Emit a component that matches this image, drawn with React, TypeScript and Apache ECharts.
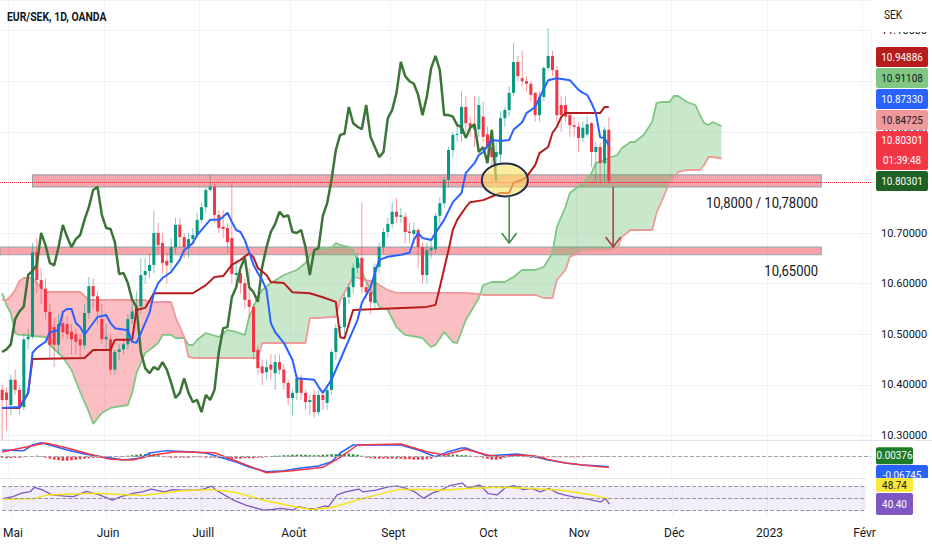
import React, { useEffect, useRef } from "react";
import * as echarts from "echarts";

const FONT = "Roboto, 'Noto Sans', sans-serif";
const SYMBOL_TITLE = "EUR/SEK, 1D, OANDA";
const CURRENCY = "SEK";
const COUNTDOWN = "01:39:48";
const CATEGORY_COUNT = 201;
const MONTH_TICK_LABELS: Record<string, string> = {
  "05": "Mai", "06": "Juin", "07": "Juill", "08": "Août", "09": "Sept",
  "10": "Oct", "11": "Nov", "12": "Déc", "01": "2023", "02": "Févr",
};
const ZONE_TEXTS = ["10,8000 / 10,78000", "10,65000"];

// daily candles: [open, close, low, high]
const ohlc: number[][] = [
  [10.39, 10.37, 10.29, 10.40], [10.385, 10.37, 10.31, 10.395], [10.36, 10.41, 10.34, 10.42], [10.41, 10.39, 10.38, 10.43],
  [10.39, 10.356, 10.34, 10.40], [10.356, 10.49, 10.35, 10.50], [10.49, 10.495, 10.47, 10.51], [10.495, 10.662, 10.49, 10.68],
  [10.662, 10.607, 10.58, 10.69], [10.607, 10.59, 10.56, 10.63], [10.59, 10.544, 10.53, 10.61], [10.544, 10.479, 10.45, 10.56],
  [10.514, 10.479, 10.435, 10.53], [10.479, 10.52, 10.46, 10.54], [10.522, 10.504, 10.49, 10.54], [10.52, 10.50, 10.49, 10.535],
  [10.505, 10.49, 10.46, 10.52], [10.50, 10.485, 10.46, 10.51], [10.49, 10.478, 10.45, 10.50], [10.478, 10.542, 10.47, 10.56],
  [10.542, 10.595, 10.53, 10.613], [10.595, 10.575, 10.55, 10.61], [10.575, 10.545, 10.52, 10.585], [10.53, 10.49, 10.48, 10.56],
  [10.49, 10.495, 10.47, 10.52], [10.49, 10.43, 10.42, 10.50], [10.43, 10.465, 10.42, 10.47], [10.465, 10.47, 10.45, 10.48],
  [10.47, 10.48, 10.46, 10.49], [10.48, 10.53, 10.47, 10.54], [10.53, 10.545, 10.52, 10.56], [10.54, 10.555, 10.53, 10.585],
  [10.555, 10.617, 10.54, 10.65], [10.617, 10.625, 10.60, 10.65], [10.625, 10.637, 10.61, 10.66], [10.637, 10.70, 10.62, 10.745],
  [10.70, 10.676, 10.66, 10.72], [10.68, 10.641, 10.62, 10.70], [10.645, 10.636, 10.60, 10.66], [10.641, 10.672, 10.62, 10.69],
  [10.672, 10.716, 10.66, 10.73], [10.716, 10.692, 10.67, 10.73], [10.692, 10.672, 10.65, 10.70], [10.67, 10.688, 10.65, 10.70],
  [10.688, 10.696, 10.68, 10.71], [10.696, 10.726, 10.69, 10.74], [10.726, 10.751, 10.72, 10.76], [10.751, 10.785, 10.74, 10.79],
  [10.785, 10.791, 10.78, 10.815], [10.791, 10.736, 10.72, 10.80], [10.736, 10.71, 10.70, 10.745], [10.712, 10.708, 10.69, 10.745],
  [10.71, 10.682, 10.66, 10.72], [10.69, 10.619, 10.60, 10.799], [10.617, 10.621, 10.60, 10.64], [10.621, 10.601, 10.58, 10.63],
  [10.601, 10.568, 10.55, 10.61], [10.568, 10.554, 10.53, 10.63], [10.554, 10.465, 10.45, 10.56], [10.469, 10.433, 10.42, 10.48],
  [10.436, 10.423, 10.40, 10.45], [10.425, 10.435, 10.41, 10.45], [10.44, 10.43, 10.41, 10.46], [10.423, 10.445, 10.39, 10.46],
  [10.445, 10.43, 10.42, 10.46], [10.43, 10.404, 10.39, 10.44], [10.404, 10.374, 10.36, 10.41], [10.374, 10.384, 10.34, 10.39],
  [10.384, 10.413, 10.37, 10.42], [10.413, 10.384, 10.37, 10.42], [10.384, 10.366, 10.35, 10.39], [10.366, 10.37, 10.34, 10.38],
  [10.38, 10.346, 10.335, 10.39], [10.346, 10.38, 10.34, 10.39], [10.38, 10.37, 10.35, 10.39], [10.364, 10.39, 10.35, 10.40],
  [10.39, 10.465, 10.38, 10.47], [10.465, 10.512, 10.45, 10.52], [10.512, 10.514, 10.50, 10.52], [10.514, 10.573, 10.50, 10.58],
  [10.573, 10.593, 10.56, 10.60], [10.593, 10.631, 10.58, 10.64], [10.631, 10.651, 10.62, 10.66], [10.651, 10.593, 10.58, 10.761],
  [10.593, 10.583, 10.57, 10.60], [10.583, 10.564, 10.54, 10.59], [10.562, 10.633, 10.55, 10.64], [10.633, 10.672, 10.62, 10.68],
  [10.672, 10.702, 10.66, 10.71], [10.702, 10.718, 10.69, 10.73], [10.718, 10.742, 10.71, 10.76], [10.742, 10.732, 10.72, 10.769],
  [10.732, 10.735, 10.72, 10.75], [10.732, 10.702, 10.68, 10.74], [10.703, 10.70, 10.68, 10.72], [10.698, 10.706, 10.68, 10.72],
  [10.706, 10.672, 10.63, 10.71], [10.672, 10.617, 10.60, 10.68], [10.617, 10.666, 10.60, 10.68], [10.666, 10.67, 10.65, 10.69],
  [10.668, 10.734, 10.66, 10.74], [10.734, 10.759, 10.72, 10.77], [10.759, 10.805, 10.75, 10.81], [10.805, 10.864, 10.79, 10.87],
  [10.864, 10.894, 10.85, 10.90], [10.894, 10.896, 10.88, 10.92], [10.896, 10.949, 10.88, 10.98], [10.949, 10.917, 10.90, 10.97],
  [10.917, 10.91, 10.89, 10.93], [10.915, 10.905, 10.87, 10.97], [10.905, 10.953, 10.89, 10.97], [10.93, 10.89, 10.88, 10.96],
  [10.895, 10.87, 10.84, 10.91], [10.87, 10.85, 10.83, 10.88], [10.85, 10.86, 10.82, 10.88], [10.855, 10.927, 10.84, 10.94],
  [10.927, 10.943, 10.91, 10.95], [10.943, 10.977, 10.93, 10.99], [10.977, 11.038, 10.97, 11.075], [11.038, 11.01, 11.0, 11.05],
  [11.006, 11.0, 10.99, 11.06], [11.0, 10.995, 10.98, 11.01], [10.995, 10.973, 10.96, 11.0], [10.977, 10.933, 10.92, 10.98],
  [10.933, 10.969, 10.92, 10.98], [10.969, 11.026, 10.96, 11.03], [11.026, 11.05, 11.02, 11.105], [11.05, 11.022, 11.01, 11.06],
  [11.022, 10.933, 10.92, 11.03], [10.953, 10.933, 10.90, 10.97], [10.953, 10.93, 10.92, 10.97], [10.933, 10.913, 10.89, 10.94],
  [10.913, 10.91, 10.89, 10.93], [10.91, 10.888, 10.86, 10.92], [10.888, 10.908, 10.88, 10.92], [10.895, 10.915, 10.89, 10.93],
  [10.917, 10.86, 10.83, 10.92], [10.86, 10.87, 10.80, 10.88], [10.87, 10.838, 10.80, 10.88], [10.838, 10.904, 10.80, 10.91],
  [10.904, 10.80301, 10.80, 10.929],
];

// Ichimoku conversion line (tenkan) [bar, value]
const tenkan: number[][] = [
  [0, 10.354], [4, 10.356], [6, 10.384], [7, 10.463], [8, 10.473], [10, 10.485], [11, 10.504], [13, 10.508], [14, 10.544],
  [15, 10.55], [16, 10.55], [17, 10.522], [18, 10.514], [19, 10.499], [22, 10.534], [24, 10.538], [25, 10.522], [26, 10.512],
  [29, 10.508], [30, 10.485], [31, 10.483], [32, 10.502], [34, 10.542], [35, 10.581], [36, 10.601], [37, 10.611], [39, 10.623],
  [41, 10.647], [42, 10.666], [44, 10.68], [45, 10.696], [47, 10.716], [48, 10.726], [50, 10.726], [51, 10.732], [52, 10.74],
  [53, 10.722], [54, 10.706], [55, 10.702], [56, 10.686], [57, 10.662], [58, 10.637], [59, 10.621], [60, 10.607], [61, 10.587],
  [62, 10.522], [63, 10.504], [65, 10.483], [67, 10.449], [68, 10.413], [72, 10.41], [73, 10.396], [74, 10.384], [76, 10.41],
  [78, 10.449], [80, 10.489], [82, 10.528], [83, 10.562], [85, 10.593], [87, 10.647], [89, 10.653], [92, 10.657], [94, 10.661],
  [95, 10.686], [96, 10.70], [97, 10.69], [99, 10.686], [100, 10.70], [102, 10.726], [104, 10.761], [106, 10.779], [107, 10.819],
  [109, 10.838], [110, 10.854], [111, 10.86], [113, 10.884], [115, 10.882], [117, 10.884], [118, 10.904], [120, 10.919],
  [121, 10.937], [123, 10.949], [124, 10.967], [126, 11.002], [128, 11.006], [131, 11.002], [133, 10.983], [134, 10.977],
  [135, 10.973], [136, 10.957], [137, 10.937], [138, 10.889], [139, 10.888], [140, 10.8733],
];

// Ichimoku base line (kijun) [bar, value]
const kijun: number[][] = [
  [0, 10.354], [4, 10.354], [6, 10.384], [7, 10.451], [19, 10.453], [21, 10.469], [25, 10.469], [26, 10.489], [30, 10.489],
  [31, 10.548], [33, 10.552], [35, 10.581], [44, 10.581], [47, 10.597], [49, 10.613], [51, 10.615], [53, 10.637], [55, 10.647],
  [57, 10.66], [58, 10.652], [59, 10.631], [61, 10.617], [62, 10.603], [65, 10.601], [67, 10.583], [71, 10.581], [74, 10.573],
  [77, 10.564], [78, 10.494], [79, 10.492], [81, 10.548], [98, 10.554], [100, 10.558], [101, 10.593], [103, 10.666],
  [104, 10.706], [105, 10.726], [107, 10.751], [108, 10.761], [111, 10.765], [115, 10.779], [117, 10.779], [118, 10.799],
  [120, 10.805], [121, 10.811], [123, 10.834], [124, 10.858], [126, 10.87], [127, 10.898], [128, 10.91], [129, 10.929],
  [130, 10.937], [138, 10.937], [139, 10.94886], [140, 10.94886],
];

// Ichimoku cloud [bar, leading span A, leading span B]
const cloud: number[][] = [
  [0, 10.5815, 10.5676], [1, 10.5577, 10.5676], [2, 10.5419, 10.5755], [3, 10.5024, 10.5874], [4, 10.4985, 10.6052],
  [5, 10.4985, 10.6111], [7, 10.4965, 10.6111], [10, 10.4945, 10.5834], [11, 10.4787, 10.5834], [13, 10.4629, 10.5834],
  [14, 10.455, 10.5834], [16, 10.4293, 10.5834], [18, 10.3858, 10.5834], [20, 10.3463, 10.5676], [21, 10.3225, 10.5676],
  [23, 10.3443, 10.5676], [25, 10.3542, 10.5676], [29, 10.3601, 10.5676], [30, 10.3838, 10.5676], [31, 10.4233, 10.5676],
  [33, 10.4629, 10.5676], [34, 10.4688, 10.5637], [36, 10.4826, 10.5637], [37, 10.4985, 10.5637], [39, 10.4985, 10.5637],
  [40, 10.4925, 10.534], [42, 10.4925, 10.4945], [43, 10.4787, 10.455], [44, 10.4787, 10.453], [45, 10.4886, 10.453],
  [47, 10.5024, 10.453], [50, 10.4945, 10.453], [52, 10.5083, 10.453], [54, 10.5044, 10.453], [56, 10.4985, 10.453],
  [57, 10.534, 10.453], [59, 10.5735, 10.453], [60, 10.5874, 10.4826], [62, 10.6012, 10.4826], [65, 10.617, 10.4826],
  [68, 10.6269, 10.4826], [70, 10.6407, 10.4826], [71, 10.6565, 10.532], [73, 10.6704, 10.532], [76, 10.6704, 10.534],
  [77, 10.6803, 10.534], [78, 10.6763, 10.5676], [80, 10.6724, 10.5973], [81, 10.6664, 10.6131], [82, 10.6467, 10.6111],
  [84, 10.6032, 10.6071], [86, 10.5735, 10.6032], [87, 10.5538, 10.5973], [89, 10.5478, 10.5874], [91, 10.5143, 10.5815],
  [93, 10.4985, 10.5815], [97, 10.4925, 10.5815], [99, 10.4747, 10.5815], [100, 10.4787, 10.5815], [102, 10.5044, 10.5815],
  [104, 10.4846, 10.5815], [105, 10.4826, 10.5815], [107, 10.5281, 10.5815], [110, 10.5716, 10.5795], [111, 10.5973, 10.5775],
  [113, 10.6032, 10.5775], [116, 10.6032, 10.5775], [118, 10.6131, 10.5775], [120, 10.6269, 10.5775], [123, 10.6269, 10.5775],
  [125, 10.6328, 10.5716], [127, 10.6605, 10.5716], [128, 10.7119, 10.6071], [130, 10.7514, 10.6269], [131, 10.7791, 10.6526],
  [134, 10.7988, 10.6645], [136, 10.8186, 10.6664], [137, 10.8384, 10.6664], [139, 10.8443, 10.6664], [140, 10.8482, 10.6664],
  [142, 10.8542, 10.6704], [143, 10.868, 10.6921], [145, 10.8799, 10.706], [146, 10.8799, 10.706], [148, 10.8937, 10.706],
  [150, 10.9194, 10.706], [151, 10.9569, 10.7396], [152, 10.9589, 10.7593], [154, 10.9589, 10.7988], [155, 10.9708, 10.8087],
  [156, 10.9708, 10.8206], [158, 10.9589, 10.8245], [160, 10.953, 10.8245], [161, 10.9332, 10.8245], [162, 10.9174, 10.8344],
  [163, 10.9135, 10.8502], [164, 10.9194, 10.8502], [166, 10.91108, 10.84725],
];

const CHIKOU_SHIFT = 26;

// support zones [fromBar, toBar, low, high]
const zones: number[][] = [
  [7, 189, 10.791, 10.815],
  [0, 189, 10.657, 10.672],
];
const ellipseMark = [116, 10.805];
const greenArrow = [117, 10.7732, 10.6803];
const redArrow = [141, 10.791, 10.6724];

// MACD pane
const macdLine: number[][] = [
  [0, 0.045], [5, 0.041], [7, 0.079], [9, 0.0945], [11, 0.079], [15, 0.045], [19, 0.018], [23, 0], [28, -0.022],
  [32, -0.009], [34, 0.025], [38, 0.041], [43, 0.034], [47, 0.025], [54, -0.036], [57, -0.07], [61, -0.101], [65, -0.095],
  [69, -0.076], [73, -0.063], [76, -0.034], [78, 0.025], [81, 0.079], [84, 0.079], [88, 0.079], [92, 0.079], [96, 0.045],
  [100, 0], [103, 0.034], [106, 0.059], [107, 0.059], [112, 0.005], [115, 0.011], [119, 0.018], [123, 0], [126, -0.022],
  [130, -0.043], [134, -0.056], [138, -0.063], [140, -0.06745],
];
const signalLine: number[][] = [
  [0, 0.032], [10, 0.092], [15, 0.059], [20, 0.018], [25, -0.018], [30, -0.022], [35, 0.011], [40, 0.034], [49, 0.027],
  [55, -0.041], [61, -0.108], [67, -0.095], [74, -0.072], [78, -0.004], [82, 0.079], [92, 0.086], [98, 0.034], [102, 0.011],
  [107, 0.05], [112, 0.011], [115, 0], [119, 0.011], [123, 0.005], [126, -0.018], [130, -0.043], [134, -0.056], [138, -0.068],
  [140, -0.0712],
];
const macdHist: number[] = [
  -0.0068, -0.0101, -0.0101, -0.0068, -0.0068, -0.0034, 0,
  0.0034, 0.0068, 0.0034,
  -0.0068, -0.0135, -0.0203, -0.0236, -0.027, -0.027, -0.0236, -0.0203, -0.0169, -0.0135,
  -0.0101, -0.0068, -0.0068, -0.0068, -0.0068, -0.0068, -0.0034, -0.0034,
  0.0034, 0.0068, 0.0101, 0.0135, 0.0169, 0.0169, 0.0169, 0.0135, 0.0101,
  -0.0034, -0.0034, -0.0068, -0.0068, -0.0068, -0.0068, -0.0068, -0.0034, -0.0034, -0.0034,
  -0.0068, -0.0068, -0.0068, -0.0101, -0.0101, -0.0101, -0.0135, -0.0135, -0.0135, -0.0101, -0.0101, -0.0101, -0.0068, -0.0068, -0.0034,
  0.0034, 0.0068, 0.0068, 0.0101, 0.0101, 0.0135, 0.0135, 0.0135, 0.0135, 0.0101, 0.0101, 0.0101, 0.0135, 0.0135, 0.0169,
  0.0169, 0.0203, 0.0203, 0.0203, 0.0169, 0.0135, 0.0068,
  -0.0068, -0.0101, -0.0135, -0.0135, -0.0135, -0.0135, -0.0135, -0.0135, -0.0135, -0.0169, -0.0169, -0.0203, -0.0203, -0.0203, -0.0169, -0.0135,
  0.0034, 0.0068, 0.0101, 0.0135, 0.0135, 0.0135, 0.0101, 0.0101,
  0.0068, 0.0034, -0.0034, -0.0068,
  -0.0135, -0.0203, -0.0203, -0.0169,
  -0.0068, -0.0034, 0.0034, 0.0034, 0.0034, -0.0034, -0.0068, -0.0068, -0.0068, -0.0068,
  -0.0034, -0.0034, -0.0034, -0.0034, -0.0034, -0.0034, -0.0034, -0.0034, -0.0034,
  -0.002, -0.002, -0.0014, 0.0014, 0.0027, 0.00376,
];

// RSI pane
const rsiLine: number[][] = [
  [0, 50], [2, 53], [4, 59], [6, 61.5], [7, 69], [9, 64], [11, 56], [14, 54], [16, 53], [19, 62], [22, 56], [24, 50],
  [25, 47], [27, 53], [30, 59], [32, 61], [34, 66], [37, 61], [39, 65], [41, 64], [44, 64], [46, 66], [48, 71], [49, 64],
  [53, 47], [56, 38], [60, 30], [62, 31], [64, 33], [67, 30], [68, 36], [70, 33], [72, 32], [74, 37], [75, 36], [77, 56],
  [79, 61], [82, 66], [83, 61], [86, 64], [89, 70], [91, 71], [93, 67], [95, 61], [97, 50], [99, 59], [101, 64], [103, 72],
  [106, 76], [107, 69.5], [108, 69], [110, 73], [112, 58], [114, 56], [116, 69], [118, 72], [120, 65], [122, 67], [124, 61],
  [126, 67], [128, 59], [130, 55], [132, 52], [135, 49], [136, 47], [138, 44], [139, 50], [140, 40.4],
];
const rsiMa: number[][] = [
  [0, 48.5], [7, 50], [10, 56], [21, 59], [32, 55], [41, 63], [48, 65], [53, 61], [60, 47], [67, 36], [71, 31], [76, 35],
  [83, 50], [91, 65], [97, 65], [101, 64], [107, 67], [115, 69], [122, 67], [129, 64], [136, 56], [140, 48.74],
];
const rsiLevels = [70, 50, 30];

function buildDates(): string[] {
  const out: string[] = [];
  let t = Date.UTC(2022, 3, 28);
  while (out.length < CATEGORY_COUNT) {
    const d = new Date(t);
    const wd = d.getUTCDay();
    if (wd !== 0 && wd !== 6) out.push(d.toISOString().slice(0, 10));
    t += 86400000;
  }
  return out;
}
const dates = buildDates();
const isMonthStart = (i: number) => i > 0 && dates[i].slice(5, 7) !== dates[i - 1].slice(5, 7);
const last = (a: number[][], k = 1) => a[a.length - 1][k];

function lineSeries(name: string, data: number[][], color: string, width: number, g: number, z: number, extra: any = {}) {
  return {
    name, type: "line", data, xAxisIndex: g, yAxisIndex: g, z, silent: true,
    symbol: "none", showSymbol: false, smooth: false,
    lineStyle: { color, width }, ...extra,
  };
}

function buildOption(): any {
  const green = "rgba(76,175,80,0.3)";
  const red = "rgba(242,54,69,0.32)";
  const xAxes = [0, 1, 2].map((g) => ({
    type: "category", gridIndex: g, data: dates, boundaryGap: true,
    axisLine: { show: false },
    axisTick: { show: false, alignWithLabel: true, interval: (i: number) => isMonthStart(i) },
    splitLine: { show: true, interval: (i: number) => isMonthStart(i), lineStyle: { color: "#f0f3fa", width: 1 } },
    axisLabel: g === 2
      ? {
          show: true, interval: (i: number) => isMonthStart(i), color: "#131722", fontSize: 12, margin: 10,
          fontFamily: FONT,
          formatter: (v: string) => MONTH_TICK_LABELS[v.slice(5, 7)] || "",
        }
      : { show: false },
  }));
  return {
    animation: false,
    textStyle: { fontFamily: FONT },
    grid: [
      { left: 0, right: 61, top: 0, height: 440 },
      { left: 0, right: 61, top: 441, height: 37 },
      { left: 0, right: 61, top: 479, height: 38 },
    ],
    xAxis: xAxes,
    yAxis: [
      {
        type: "value", gridIndex: 0, position: "right", min: 10.29093, max: 11.1605,
        minInterval: 0.1, maxInterval: 0.1,
        axisLine: { show: false }, axisTick: { show: false },
        splitLine: { show: true, lineStyle: { color: "#f0f3fa" } },
        axisLabel: {
          color: "#131722", fontSize: 11, margin: 10, fontFamily: FONT,
          showMinLabel: false, showMaxLabel: false,
          formatter: (v: number) => v.toFixed(5),
        },
      },
      { type: "value", gridIndex: 1, min: -0.1438, max: 0.106, show: false, splitLine: { show: false } },
      { type: "value", gridIndex: 2, min: 18.2, max: 83.16, show: false, splitLine: { show: false } },
    ],
    series: [
      {
        name: "zones", type: "custom", xAxisIndex: 0, yAxisIndex: 0, z: 1, silent: true,
        data: zones,
        encode: { x: [0, 1], y: [2, 3] },
        renderItem: (params: any, api: any) => {
          const from = api.value(0), to = api.value(1), lo = api.value(2), hi = api.value(3);
          const p1 = api.coord([from, hi]);
          const p2 = api.coord([to, lo]);
          const x0 = from === 0 ? params.coordSys.x : p1[0];
          return {
            type: "rect",
            shape: { x: x0, y: p1[1], width: p2[0] - x0, height: p2[1] - p1[1] },
            style: { fill: "rgba(242,54,69,0.45)", stroke: "#9ea1aa", lineWidth: 1.2 },
          };
        },
      },
      {
        name: "cloud", type: "custom", xAxisIndex: 0, yAxisIndex: 0, z: 2, silent: true, clip: true,
        data: [[0, cloud[0][1]]],
        renderItem: (_p: any, api: any) => {
          const children: any[] = [];
          let upper: number[][] = [];
          let lower: number[][] = [];
          let sign = 1;
          let prevA: number[] = [];
          let prevD = 0;
          const flush = () => {
            if (upper.length > 1) {
              children.push({
                type: "polygon",
                shape: { points: upper.concat(lower.slice().reverse()) },
                style: { fill: sign >= 0 ? green : red },
              });
            }
          };
          cloud.forEach((c, k) => {
            const pa = api.coord([c[0], c[1]]);
            const pb = api.coord([c[0], c[2]]);
            const d = c[1] - c[2];
            const sg = d >= 0 ? 1 : -1;
            if (k === 0) {
              sign = sg; upper = [pa]; lower = [pb];
            } else {
              if (sg !== sign) {
                const t = prevD / (prevD - d);
                const X = [prevA[0] + (pa[0] - prevA[0]) * t, prevA[1] + (pa[1] - prevA[1]) * t];
                upper.push(X); lower.push(X); flush();
                upper = [X]; lower = [X]; sign = sg;
              }
              upper.push(pa); lower.push(pb);
            }
            prevA = pa; prevD = d;
          });
          flush();
          return { type: "group", children };
        },
      },
      lineSeries("Leading Span A", cloud.map((c) => [c[0], c[1]]), "#81c784", 1.8, 0, 2),
      lineSeries("Leading Span B", cloud.map((c) => [c[0], c[2]]), "#ef9a9a", 1.8, 0, 2),
      {
        name: "EUR/SEK", type: "custom", xAxisIndex: 0, yAxisIndex: 0, z: 3, silent: true, clip: true,
        data: ohlc.map((d, i) => [i, d[0], d[1], d[2], d[3]]),
        encode: { x: 0, y: [1, 2, 3, 4] },
        renderItem: (_p: any, api: any) => {
          const i = api.value(0), o = api.value(1), c = api.value(2), l = api.value(3), h = api.value(4);
          const po = api.coord([i, o]), pc = api.coord([i, c]), pl = api.coord([i, l]), ph = api.coord([i, h]);
          const w = Math.max(1, api.size([1, 0])[0] * 0.7);
          const up = c >= o;
          const col = up ? "#089981" : "#f23645";
          const wick = up ? "rgba(8,153,129,0.5)" : "rgba(242,54,69,0.5)";
          const top = Math.min(po[1], pc[1]);
          const hh = Math.max(1, Math.abs(po[1] - pc[1]));
          return {
            type: "group",
            children: [
              { type: "line", shape: { x1: po[0], y1: ph[1], x2: po[0], y2: pl[1] }, style: { stroke: wick, lineWidth: 1 } },
              { type: "rect", shape: { x: po[0] - w / 2, y: top, width: w, height: hh }, style: { fill: col } },
            ],
          };
        },
      },
      lineSeries("Lagging Span", ohlc.slice(CHIKOU_SHIFT).map((d, j) => [j, d[1]]), "#3c7438", 2.5, 0, 4),
      lineSeries("Base Line", kijun, "#b71c1c", 2, 0, 4),
      lineSeries("Conversion Line", tenkan, "#2962ff", 2, 0, 4, {
        markLine: {
          silent: true, symbol: ["none", "none"], label: { show: false },
          lineStyle: { color: "#f23645", type: "dotted", width: 1 },
          data: [{ yAxis: ohlc[ohlc.length - 1][1] }],
        },
      }),
      {
        name: "Histogram", type: "bar", xAxisIndex: 1, yAxisIndex: 1, z: 2, silent: true,
        data: macdHist.map((v, i) => [i, v]), barWidth: "60%",
        itemStyle: { color: (p: any) => (p.value[1] >= 0 ? "#2e8b3e" : "#f23645") },
        markLine: {
          silent: true, symbol: ["none", "none"], label: { show: false },
          lineStyle: { color: "#a3a6af", type: "dashed", width: 1 },
          data: [{ yAxis: 0 }],
        },
      },
      lineSeries("MACD", macdLine, "#2962ff", 1.5, 1, 3),
      lineSeries("Signal", signalLine, "#f23645", 1.5, 1, 3),
      lineSeries("RSI", rsiLine, "#7e57c2", 1.3, 2, 3, {
        markArea: {
          silent: true, itemStyle: { color: "rgba(126,87,194,0.1)" },
          data: [[{ yAxis: rsiLevels[0] }, { yAxis: rsiLevels[2] }]],
        },
        markLine: {
          silent: true, symbol: ["none", "none"], label: { show: false },
          lineStyle: { color: "#9598a1", type: "dashed", width: 1 },
          data: rsiLevels.map((v) => ({ yAxis: v })),
        },
      }),
      lineSeries("RSI-based MA", rsiMa, "#f5e316", 1.5, 2, 3),
    ],
  };
}

function tag(x: number, y: number, w: number, h: number, bg: string, fg: string, lines: string[]): any[] {
  const out: any[] = [
    { type: "rect", z: 60, shape: { x, y, width: w, height: h, r: 2 }, style: { fill: bg } },
  ];
  const step = h / lines.length;
  lines.forEach((t, k) => {
    out.push({
      type: "text", z: 61, x: x + 26, y: y + step * (k + 0.5), scaleX: 0.9,
      style: {
        text: t, fill: fg, font: `11px ${FONT}`,
        textAlign: "center", textVerticalAlign: "middle", align: "center", verticalAlign: "middle",
      },
    });
  });
  return out;
}

function buildGraphic(px: (g: number, x: number, y: number) => number[]): any[] {
  const els: any[] = [];
  const txt = (x: number, y: number, text: string, font: string, fill: string, align: string, scaleX = 1, z = 50) => ({
    type: "text", x, y, z, scaleX,
    style: { text, font, fill, textAlign: align, align, textVerticalAlign: "middle", verticalAlign: "middle" },
  });
  // separators
  els.push({ type: "line", z: 45, shape: { x1: 0, y1: 440.5, x2: 932, y2: 440.5 }, style: { stroke: "#e0e3eb", lineWidth: 1 } });
  els.push({ type: "line", z: 45, shape: { x1: 0, y1: 478.5, x2: 932, y2: 478.5 }, style: { stroke: "#e0e3eb", lineWidth: 1 } });
  // header
  els.push(txt(7, 17, SYMBOL_TITLE, `bold 13px ${FONT}`, "#131722", "left", 0.8));
  els.push({ type: "rect", z: 48, shape: { x: 871, y: 0, width: 61, height: 32 }, style: { fill: "#ffffff" } });
  els.push(txt(884, 15, CURRENCY, `12px ${FONT}`, "#131722", "left", 0.85, 49));

  // zones texts
  zones.forEach((zn, k) => {
    const p = px(0, zn[1], zn[2]);
    els.push(txt(p[0] - 3, p[1] + 16, ZONE_TEXTS[k], `15px ${FONT}`, "#131722", "right", 0.87));
  });

  // ellipse
  const ec = px(0, ellipseMark[0], ellipseMark[1]);
  els.push({
    type: "ellipse", z: 20, shape: { cx: ec[0], cy: ec[1], rx: 23, ry: 16.5 },
    style: { fill: "rgba(252,226,105,0.62)", stroke: "#1f2a4d", lineWidth: 2 },
  });

  // arrows
  const arrow = (a: number[], color: string) => {
    const t = px(0, a[0], a[1]);
    const b = px(0, a[0], a[2]);
    els.push({ type: "line", z: 21, shape: { x1: t[0], y1: t[1], x2: b[0], y2: b[1] }, style: { stroke: color, lineWidth: 1.5 } });
    els.push({
      type: "polyline", z: 21,
      shape: { points: [[b[0] - 7.5, b[1] - 10], [b[0], b[1]], [b[0] + 7.5, b[1] - 10]] },
      style: { stroke: color, lineWidth: 1.5, fill: "none" },
    });
  };
  arrow(greenArrow, "#3b8a3e");
  arrow(redArrow, "#a93a40");

  // main price tags (stacked upward from the lagging span value)
  const lastClose = ohlc[ohlc.length - 1][1];
  const mainTags = [
    { v: last(kijun), bg: "#b71c1c", fg: "#ffffff", extra: "" },
    { v: last(cloud, 1), bg: "#81c784", fg: "#131722", extra: "" },
    { v: last(tenkan), bg: "#2962ff", fg: "#ffffff", extra: "" },
    { v: last(cloud, 2), bg: "#ef9a9a", fg: "#131722", extra: "" },
    { v: lastClose, bg: "#f23645", fg: "#ffffff", extra: COUNTDOWN },
    { v: lastClose, bg: "#1e6123", fg: "#ffffff", extra: "" },
  ];
  let bottom = px(0, 0, lastClose)[1] + 10;
  for (let k = mainTags.length - 1; k >= 0; k--) {
    const t = mainTags[k];
    const h = t.extra ? 39 : 20;
    const top = bottom - h;
    const lines = t.extra ? [t.v.toFixed(5), t.extra] : [t.v.toFixed(5)];
    els.push(...tag(876, top, 52, h, t.bg, t.fg, lines));
    bottom = top - 1;
  }

  // MACD tags
  const hy = px(1, 0, macdHist[macdHist.length - 1])[1];
  els.push(...tag(876, hy - 9, 37, 17, "#1e7b2a", "#ffffff", [macdHist[macdHist.length - 1].toFixed(5)]).map((e: any) => (e.type === "text" ? { ...e, x: 894.5 } : e)));
  els.push(...tag(876, 465, 52, 20, "#2962ff", "#ffffff", [last(macdLine).toFixed(5)]));
  els.push({ type: "rect", z: 62, shape: { x: 866, y: 478, width: 66, height: 42 }, style: { fill: "#ffffff" } });
  // RSI tags
  const ry = px(2, 0, last(rsiLine))[1];
  const pTop = ry - 11;
  const yl = tag(876, 478, 37, pTop - 1 - 478, "#fbe83b", "#131722", [last(rsiMa).toFixed(2)]);
  const pl = tag(876, pTop, 37, 22, "#7e57c2", "#ffffff", [last(rsiLine).toFixed(2)]);
  [...yl, ...pl].forEach((e: any) => {
    const c = { ...e, z: e.z + 5 };
    if (c.type === "text") c.x = 894.5;
    els.push(c);
  });
  return els;
}

export default function App() {
  const ref = useRef<HTMLDivElement>(null);
  useEffect(() => {
    const el = ref.current;
    if (!el) return;
    const chart = echarts.init(el, null, { renderer: "svg" });
    chart.setOption(buildOption());
    const px = (g: number, x: number, y: number) =>
      chart.convertToPixel({ xAxisIndex: g, yAxisIndex: g } as any, [x, y]) as unknown as number[];
    chart.setOption({ graphic: buildGraphic(px) });
    return () => chart.dispose();
  }, []);
  return (
    <div
      ref={ref}
      style={{ position: "fixed", left: 0, top: 0, width: 932, height: 550, background: "#ffffff" }}
    />
  );
}
